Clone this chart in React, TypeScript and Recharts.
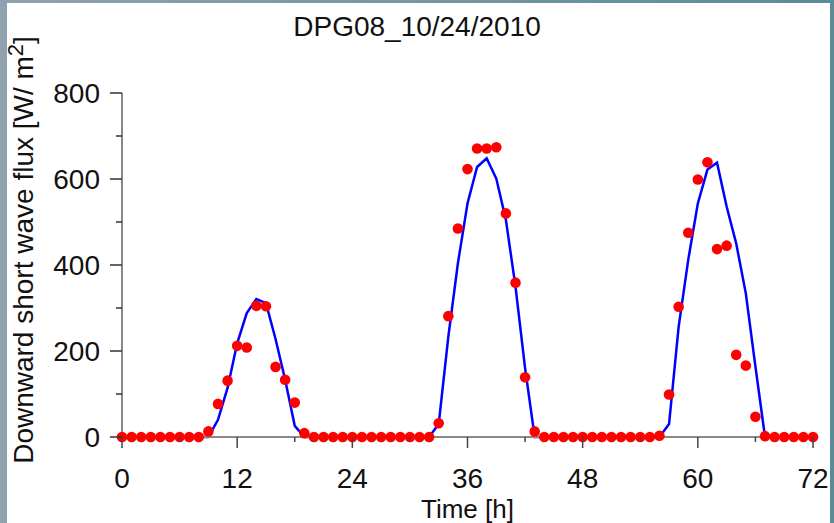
import React from 'react';
import { ComposedChart, XAxis, YAxis, Scatter, Line } from 'recharts';

// hour of simulation / observation
const hours = [
  0, 1, 2, 3, 4, 5, 6, 7, 8, 9, 10, 11, 12, 13, 14, 15, 16, 17, 18, 19, 20, 21, 22, 23, 24,
  25, 26, 27, 28, 29, 30, 31, 32, 33, 34, 35, 36, 37, 38, 39, 40, 41, 42, 43, 44, 45, 46, 47, 48,
  49, 50, 51, 52, 53, 54, 55, 56, 57, 58, 59, 60, 61, 62, 63, 64, 65, 66, 67, 68, 69, 70, 71, 72,
];

// red dots (observed)
const observed = [
  0, 0, 0, 0, 0, 0, 0, 0, 0, 13, 77, 131, 212, 208, 305, 304, 163, 133, 80, 9, 0, 0, 0, 0, 0,
  0, 0, 0, 0, 0, 0, 0, 0, 32, 281, 485, 623, 671, 671, 674, 520, 359, 139, 13, 0, 0, 0, 0, 0,
  0, 0, 0, 0, 0, 0, 0, 3, 99, 303, 475, 599, 639, 437, 445, 191, 166, 47, 2, 0, 0, 0, 0, 0,
];

// blue line (model)
const modeled = [
  0, 0, 0, 0, 0, 0, 0, 0, 0, 0, 40, 114, 218, 288, 321, 311, 228, 133, 26, 0, 0, 0, 0, 0, 0,
  0, 0, 0, 0, 0, 0, 0, 0, 30, 233, 404, 543, 628, 648, 601, 505, 350, 160, 0, 0, 0, 0, 0, 0,
  0, 0, 0, 0, 0, 0, 0, 0, 30, 256, 412, 543, 622, 638, 536, 450, 334, 164, 0, 0, 0, 0, 0, 0,
];

const xTicks = [0, 6, 12, 18, 24, 30, 36, 42, 48, 54, 60, 66, 72];
const yTicks = [0, 100, 200, 300, 400, 500, 600, 700, 800];

const title = 'DPG08_10/24/2010';
const xLabel = 'Time [h]';

const font = '"Liberation Sans", Arial, sans-serif';

const data = hours.map((h, i) => ({ h, obs: observed[i], model: modeled[i] }));

function XTick(props: any) {
  const { x, y, payload } = props;
  const major = payload.value % 12 === 0;
  return (
    <g>
      <line x1={x} x2={x} y1={y} y2={y + (major ? 11 : 5)} stroke="#444" strokeWidth={1.5} />
      {major && (
        <text x={x} y={y + 51} textAnchor="middle" fontSize={28} fill="#111" fontFamily={font}>
          {payload.value}
        </text>
      )}
    </g>
  );
}

function YTick(props: any) {
  const { x, y, payload } = props;
  const major = payload.value % 200 === 0;
  return (
    <g>
      <line x1={x} x2={x - (major ? 12 : 6)} y1={y} y2={y} stroke="#333" strokeWidth={1.5} />
      {major && (
        <text x={x - 22} y={y + 10} textAnchor="end" fontSize={28} fill="#111" fontFamily={font}>
          {payload.value}
        </text>
      )}
    </g>
  );
}

function Dot(props: any) {
  const { cx, cy } = props;
  return <circle cx={cx} cy={cy} r={5.3} fill="#ff0000" />;
}

function YLabel(props: any) {
  const vb = props.viewBox;
  const x = vb.x + 33;
  const y = vb.y + vb.height / 2 - 15;
  return (
    <text
      x={x}
      y={y}
      transform={`rotate(-90, ${x}, ${y})`}
      textAnchor="middle"
      fontSize={28}
      fill="#111"
      fontFamily={font}
    >
      Downward short wave flux [W/ m<tspan dy={-10} fontSize={22}>2</tspan>
      <tspan dy={10}>]</tspan>
    </text>
  );
}

function XLabel(props: any) {
  const vb = props.viewBox;
  return (
    <text
      x={vb.x + vb.width / 2}
      y={vb.y + 80.5}
      textAnchor="middle"
      fontSize={26}
      fill="#111"
      fontFamily={font}
    >
      {xLabel}
    </text>
  );
}

export default function App() {
  return (
    <div
      style={{
        position: 'absolute',
        left: 0,
        top: 0,
        width: 834,
        height: 523,
        overflow: 'hidden',
        background: 'linear-gradient(90deg, #8fa3ae, #5b8b97)',
      }}
    >
      <div style={{ position: 'absolute', left: 7, top: 3, width: 823, height: 520, background: '#fff' }} />
      <div
        style={{
          position: 'absolute',
          left: 0,
          top: 13,
          width: 834,
          textAlign: 'center',
          fontFamily: font,
          fontSize: 28,
          lineHeight: '28px',
          color: '#111',
        }}
      >
        {title}
      </div>
      <div style={{ position: 'absolute', left: 0, top: 0 }}>
        <ComposedChart width={834} height={523} data={data} margin={{ top: 93, right: 21, bottom: 0, left: 0 }}>
          <XAxis
            dataKey="h"
            type="number"
            domain={[0, 72]}
            ticks={xTicks}
            interval={0}
            tickSize={0}
            tickMargin={0}
            tickLine={false}
            tick={<XTick />}
            height={86}
            axisLine={{ stroke: '#888', strokeWidth: 2 }}
            label={<XLabel />}
          />
          <YAxis
            type="number"
            domain={[0, 800]}
            ticks={yTicks}
            interval={0}
            tickSize={0}
            tickMargin={0}
            tickLine={false}
            tick={<YTick />}
            width={122}
            axisLine={{ stroke: '#888', strokeWidth: 2 }}
            label={<YLabel />}
          />
          <Scatter dataKey="obs" shape={<Dot />} isAnimationActive={false} />
          <Line
            dataKey="model"
            type="linear"
            stroke="#0000ff"
            strokeWidth={2.5}
            dot={false}
            activeDot={false}
            isAnimationActive={false}
          />
        </ComposedChart>
      </div>
    </div>
  );
}
